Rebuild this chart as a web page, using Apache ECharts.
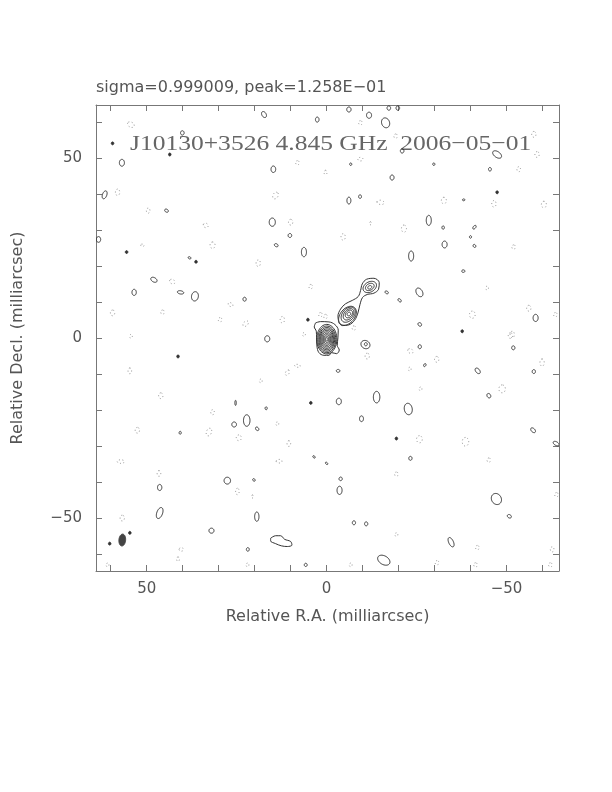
<!DOCTYPE html>
<html><head><meta charset="utf-8">
<script src="https://cdn.jsdelivr.net/npm/echarts@6/dist/echarts.min.js"></script>
<style>html,body{margin:0;padding:0;background:#fff}#c{width:612px;height:792px}</style>
</head><body><div id="c"></div>
<script>
// ---- axes ----
const xRange = [-64.6, 64.1];   // R.A. (shown reversed)
const yRange = [-64.6, 64.85];  // Decl.
const tickValues = [-60,-50,-40,-30,-20,-10,0,10,20,30,40,50,60];
const tickLabelValues = [-50,0,50];

// ---- header texts ----
const statsText = 'sigma=0.999009, peak=1.258E\u221201';
const titleText = 'J10130+3526 4.845 GHz  2006\u221205\u221201';
const xName = 'Relative R.A. (milliarcsec)';
const yName = 'Relative Decl. (milliarcsec)';

// ---- positive contours (single-level blobs): [x, y, semiMajor, semiMinor, PA deg] ----
const positiveBlobs = [
[17.4,62.2,0.9,0.6,30],[2.6,60.8,0.7,0.5,0],[40.1,57.1,0.6,0.5,0],[56.9,48.8,0.95,0.7,0],
[14.8,47.0,0.9,0.65,0],[61.7,39.9,1.15,0.6,-20],[44.5,35.5,0.55,0.4,60],[63.4,27.5,0.8,0.6,0],
[15.1,32.3,1.15,0.85,0],[10.2,28.6,0.55,0.5,0],[14.0,25.9,0.55,0.4,60],[6.3,24.0,1.3,0.7,0],
[38.1,22.4,0.4,0.3,60],[48.0,16.3,0.95,0.6,60],[53.5,12.8,0.85,0.6,0],[40.6,12.8,0.9,0.45,80],
[36.6,11.7,1.3,0.95,-10],[22.8,10.9,0.55,0.45,0],[16.5,-0.1,0.85,0.7,0],
[-6.2,63.6,0.7,0.6,0],[-11.8,62.0,0.85,0.7,0],[-16.4,59.9,1.4,1.1,20],[-17.3,64.0,0.6,0.5,0],
[-19.8,64.0,0.6,0.5,0],[-21.0,52.1,0.6,0.5,0],[-47.4,51.1,1.4,0.8,55],[-6.7,48.4,0.35,0.3,0],
[-29.8,48.4,0.35,0.3,0],[-45.4,47.0,0.5,0.4,0],[-18.2,44.7,0.7,0.55,0],[-6.2,38.3,0.95,0.55,0],
[-9.3,39.4,0.5,0.4,0],[-38.1,38.5,0.35,0.25,90],[-28.4,32.8,1.4,0.7,0],[-32.4,30.8,0.45,0.35,0],
[-41.1,30.9,0.6,0.35,-40],[-40.0,28.2,0.35,0.3,0],[-32.8,26.1,0.95,0.7,0],[-41.1,25.7,0.45,0.35,30],
[-23.5,22.9,1.4,0.7,0],[-38.0,18.7,0.45,0.35,90],[-25.8,12.8,1.3,0.85,30],[-16.7,12.8,0.5,0.35,60],
[-20.3,10.6,0.55,0.35,45],[-58.1,5.7,1.0,0.7,0],[-25.9,3.9,0.55,0.45,45],
[25.3,-17.9,0.7,0.2,0],[16.8,-19.4,0.4,0.3,0],[22.2,-22.8,1.6,0.9,0],[25.7,-23.9,0.7,0.65,0],
[19.3,-25.1,0.55,0.4,40],[40.7,-26.2,0.4,0.3,0],[3.5,-32.9,0.4,0.25,45],[0.0,-34.7,0.4,0.25,45],
[27.6,-39.5,0.95,0.9,0],[20.2,-39.3,0.4,0.3,45],[46.4,-41.4,0.85,0.6,0],[46.4,-48.5,1.6,0.8,-20],
[19.4,-49.5,1.3,0.6,0],[32.0,-53.4,0.7,0.7,0],[21.9,-58.6,0.5,0.4,0],[5.8,-62.9,0.45,0.4,0],
[-25.9,-2.3,0.55,0.45,0],[-51.9,-2.6,0.55,0.45,0],[-3.2,-9.0,0.5,0.4,90],[-27.3,-7.4,0.45,0.3,-30],
[-42.0,-9.0,0.9,0.55,40],[-57.6,-9.2,0.55,0.45,0],[-45.1,-15.9,0.65,0.5,30],[-13.9,-16.3,1.6,0.9,0],
[-3.4,-17.5,0.9,0.7,0],[-22.7,-19.6,1.6,1.1,10],[-9.7,-22.3,0.8,0.55,0],[-57.4,-25.5,0.8,0.5,45],
[-63.8,-29.2,0.9,0.5,60],[-23.3,-33.3,0.55,0.45,0],[-3.9,-39.0,0.5,0.45,0],[-3.6,-42.2,1.15,0.7,0],
[-47.2,-44.6,1.6,1.35,30],[-50.8,-49.4,0.6,0.45,60],[-7.6,-51.2,0.55,0.45,0],[-11.0,-51.5,0.55,0.45,0],
[-34.6,-56.6,1.4,0.65,25],[-15.9,-61.6,1.85,1.2,60],
[-10.8,-1.7,1.3,1.1,60],[-10.9,-1.6,0.45,0.4,0]
];

// ---- tiny filled peaks: [x, y] ----
const dots = [
[43.6,51.1],[55.6,24.0],[36.3,21.3],[5.2,5.2],[41.3,-5.0],[4.4,-17.9],[-47.4,40.6],
[-19.4,-27.8],[54.7,-54.0],[60.3,-57.0],[-37.7,2.0],[59.5,54.2]
];

// ---- negative contours (dotted): [x, y, semiMajor, semiMinor, PA deg] ----
const negativeBlobs = [
[54.4,59.4,1.0,0.7,60],[58.1,40.6,0.9,0.6,0],[49.6,35.5,0.7,0.5,0],[33.6,31.4,0.7,0.6,60],
[31.7,25.9,0.9,0.7,0],[19.0,20.9,0.9,0.6,0],[42.9,15.8,0.8,0.6,60],[59.5,7.1,0.8,0.6,0],
[45.6,7.3,0.6,0.5,0],[26.7,9.4,0.7,0.5,60],[29.6,5.2,0.6,0.5,0],[22.5,4.1,0.9,0.6,-45],
[12.3,5.2,0.9,0.6,0],[14.2,39.7,1.0,0.7,-30],[10.0,32.3,0.8,0.6,0],[8.1,48.8,0.6,0.5,0],
[4.4,14.4,0.6,0.5,0],[1.7,6.6,0.6,0.5,0],[51.2,25.9,0.5,0.3,80],[54.4,0.6,0.5,0.4,0],
[-9.4,59.9,0.6,0.5,0],[-9.4,49.8,0.7,0.5,90],[0.3,46.1,0.6,0.4,0],[-19.2,56.2,0.6,0.5,0],
[-53.4,47.0,0.7,0.5,0],[-57.6,56.7,0.8,0.6,0],[-58.5,51.1,0.8,0.6,0],[-15.0,37.8,1.0,0.6,80],
[-32.6,38.3,0.9,0.7,0],[-46.5,37.4,0.9,0.6,0],[-60.4,37.2,0.9,0.7,0],[-21.5,30.5,1.0,0.7,0],
[-4.6,28.2,0.9,0.6,0],[-52.0,25.4,0.6,0.5,0],[-12.2,32.0,0.4,0.3,0],[-40.5,6.6,1.0,0.8,0],
[-56.2,8.4,0.8,0.6,0],[-44.6,14.0,0.5,0.4,0],[-63.6,6.6,0.6,0.5,0],[-51.6,1.1,0.9,0.6,0],
[-7.6,2.9,0.6,0.5,0],[0.3,6.1,0.6,0.5,0],
[54.7,-9.0,0.8,0.5,0],[46.1,-15.9,0.8,0.6,0],[31.7,-20.5,0.7,0.5,0],[32.7,-26.0,1.1,0.7,-20],
[52.6,-25.5,0.8,0.6,0],[24.4,-27.6,0.8,0.7,0],[57.2,-34.2,1.0,0.5,90],[46.6,-37.5,0.8,0.5,0],
[24.8,-42.5,0.9,0.5,0],[20.6,-43.9,0.4,0.3,0],[56.8,-49.9,0.8,0.6,0],[40.4,-58.6,0.6,0.5,90],
[41.3,-61.3,0.6,0.4,0],[60.9,-62.9,0.5,0.4,0],[22.0,-62.9,0.5,0.4,0],[10.5,-29.2,0.8,0.5,0],
[13.2,-34.1,0.8,0.5,90],[10.9,-9.5,0.8,0.5,-30],[8.1,-7.6,0.8,0.4,80],[18.3,-11.8,0.5,0.4,0],
[13.7,-23.7,0.5,0.4,0],[6.3,1.1,0.5,0.4,0],
[-11.3,-4.9,0.8,0.6,0],[-23.3,-3.5,0.8,0.6,60],[-30.6,-5.8,0.8,0.6,0],[-51.1,0.8,0.8,0.6,0],
[-59.9,-6.7,1.0,0.6,0],[-23.1,-8.5,0.5,0.4,0],[-48.8,-14.0,1.1,0.9,0],[-25.8,-28.0,1.0,0.8,0],
[-38.6,-28.7,1.2,0.9,0],[-45.1,-33.8,0.6,0.5,0],[-19.4,-37.7,0.6,0.5,0],[-41.9,-58.1,0.6,0.5,0],
[-30.7,-62.3,0.6,0.5,0],[-41.4,-62.9,0.6,0.5,0],[-62.2,-62.9,0.6,0.5,0],[-62.7,-58.6,0.7,0.5,0],
[-19.4,-54.5,0.5,0.4,0],[-63.9,-43.4,0.6,0.5,0],[-26.1,-14.0,0.5,0.4,0],[-6.7,-62.9,0.5,0.4,0]
];

// ---- source: core & jet nested contours: [x, y, semiMajor, semiMinor, PA deg] ----
const coreLevels = [
[-0.05,-0.2,4.1,2.8,0],[-0.05,-0.25,3.7,2.5,0],[-0.05,-0.25,3.3,2.2,0],[-0.05,-0.25,2.9,1.95,0],
[-0.05,-0.25,2.5,1.7,0],[-0.05,-0.25,2.1,1.4,0],[-0.05,-0.25,1.7,1.1,0],[-0.05,-0.25,1.3,0.85,0],
[-0.05,-0.25,0.9,0.55,0],[-0.05,-0.25,0.5,0.3,0]
];
const jetALevels = [
[-5.8,6.3,3.0,2.0,-40],[-6.0,6.6,2.4,1.6,-40],[-6.1,6.7,1.8,1.2,-40],[-6.2,6.8,1.2,0.85,-40],[-6.2,6.8,0.55,0.45,-40]
];
const jetBLevels = [
[-12.0,14.3,2.0,1.4,-60],[-12.0,14.3,1.3,0.9,-60],[-12.0,14.2,0.6,0.45,-60]
];
const coreOutline = [
[3.06,4.32],[1.67,4.68],[-0.65,4.59],[-2.31,3.86],[-3.24,2.30],[-3.15,0.18],[-2.96,-1.93],
[-3.52,-3.21],[-2.78,-4.22],[-1.39,-3.95],[-0.65,-4.68],[0.74,-4.68],[2.13,-3.95],[2.69,-2.11],
[2.78,0.18],[2.87,2.02],[3.43,3.21],[3.06,4.32]
];
const jetOutline = [
[-3.43,4.32],[-3.15,6.15],[-3.89,8.17],[-5.28,9.64],[-7.13,10.56],[-8.80,11.66],[-9.44,13.31],
[-9.91,15.15],[-11.11,16.44],[-13.15,16.71],[-14.63,15.52],[-14.44,13.68],[-13.15,12.58],
[-11.30,12.21],[-10.0,11.39],[-9.26,9.37],[-8.70,7.07],[-7.78,5.05],[-6.20,3.77],[-4.35,3.58],[-3.43,4.32]
];
const southOutline = [
[15.56,-55.5],[14.17,-54.8],[12.78,-54.8],[11.67,-55.8],[10.0,-56.4],[9.63,-57.4],[10.93,-57.8],
[12.59,-57.6],[14.17,-57.0],[15.56,-56.25],[15.56,-55.5]
];
// ---- restoring beam ----
const beam = [[56.8,-56.0,1.65,0.93,-5]];

const POS = '#333', NEG = '#8a8a8a', AX = '#777', TXT = '#555';

function ellipseRender(stroke, fill, dash) {
  return function (params, api) {
    const cx = api.value(0), cy = api.value(1), a = api.value(2), b = api.value(3);
    const pa = api.value(4) * Math.PI / 180;
    const pts = [];
    for (let i = 0; i < 48; i++) {
      const t = i / 48 * 2 * Math.PI;
      const u = a * Math.cos(t), v = b * Math.sin(t);
      const x = cx + u * Math.sin(pa) + v * Math.cos(pa);
      const y = cy + u * Math.cos(pa) - v * Math.sin(pa);
      pts.push(api.coord([x, y]));
    }
    const cs = params.coordSys;
    return {
      type: 'polygon', shape: { points: pts },
      style: { stroke: stroke, fill: fill, lineWidth: 1, lineDash: dash || null },
      clipPath: { type: 'rect', shape: { x: cs.x, y: cs.y, width: cs.width, height: cs.height } }
    };
  };
}
function ellipseSeries(data, stroke, fill, dash) {
  return { type: 'custom', data: data, encode: { x: 0, y: 1 }, renderItem: ellipseRender(stroke, fill, dash),
           silent: true, animation: false };
}
function outlineSeries(data) {
  return { type: 'line', data: data, showSymbol: false, smooth: 0.35, silent: true, animation: false,
           lineStyle: { color: POS, width: 1 } };
}
const fmt = v => (v < 0 ? '\u2212' + Math.abs(v) : String(v));
const axCommon = {
  type: 'value', splitLine: { show: false },
  axisLine: { show: true, onZero: false, lineStyle: { color: AX, width: 1 } },
  axisTick: { show: true, inside: true, length: 6, customValues: tickValues, lineStyle: { color: AX } }
};

const chart = echarts.init(document.getElementById('c'), null, { renderer: 'canvas' });
chart.setOption({
  animation: false,
  backgroundColor: '#fff',
  grid: { left: 96, right: 53, top: 105, bottom: 221, containLabel: false },
  xAxis: [
    Object.assign({}, axCommon, { position: 'bottom', min: xRange[0], max: xRange[1], inverse: true,
      axisLabel: { customValues: tickLabelValues, formatter: fmt, color: TXT, fontSize: 15, fontFamily: 'DejaVu Sans', margin: 11 },
      name: xName, nameLocation: 'middle', nameGap: 38,
      nameTextStyle: { color: TXT, fontSize: 16, fontFamily: 'DejaVu Sans' } }),
    Object.assign({}, axCommon, { position: 'top', min: xRange[0], max: xRange[1], inverse: true,
      axisLabel: { show: false } })
  ],
  yAxis: [
    Object.assign({}, axCommon, { position: 'left', min: yRange[0], max: yRange[1],
      axisLabel: { customValues: tickLabelValues, formatter: fmt, color: TXT, fontSize: 15, fontFamily: 'DejaVu Sans', margin: 14 },
      name: yName, nameLocation: 'middle', nameGap: 70, nameRotate: 90,
      nameTextStyle: { color: TXT, fontSize: 16, fontFamily: 'DejaVu Sans' } }),
    Object.assign({}, axCommon, { position: 'right', min: yRange[0], max: yRange[1],
      axisLabel: { show: false } })
  ],
  graphic: [
    { type: 'text', x: 96, y: 88, style: { text: statsText, fill: TXT, font: '16px "DejaVu Sans"', textAlign: 'left', textVerticalAlign: 'middle' } },
    { type: 'text', x: 130, y: 144, scaleX: 1.16, style: { text: titleText, fill: '#666', font: '22px "Liberation Serif"', textAlign: 'left', textVerticalAlign: 'middle' } }
  ],
  series: [
    ellipseSeries(negativeBlobs, NEG, 'none', [1, 2.5]),
    ellipseSeries(positiveBlobs, POS, 'none'),
    ellipseSeries(dots.map(d => [d[0], d[1], 0.4, 0.35, 0]), POS, POS),
    ellipseSeries(coreLevels, POS, 'none'),
    ellipseSeries(jetALevels, POS, 'none'),
    ellipseSeries(jetBLevels, POS, 'none'),
    ellipseSeries(beam, '#444', '#444'),
    outlineSeries(coreOutline),
    outlineSeries(jetOutline),
    outlineSeries(southOutline)
  ]
});
</script></body></html>
